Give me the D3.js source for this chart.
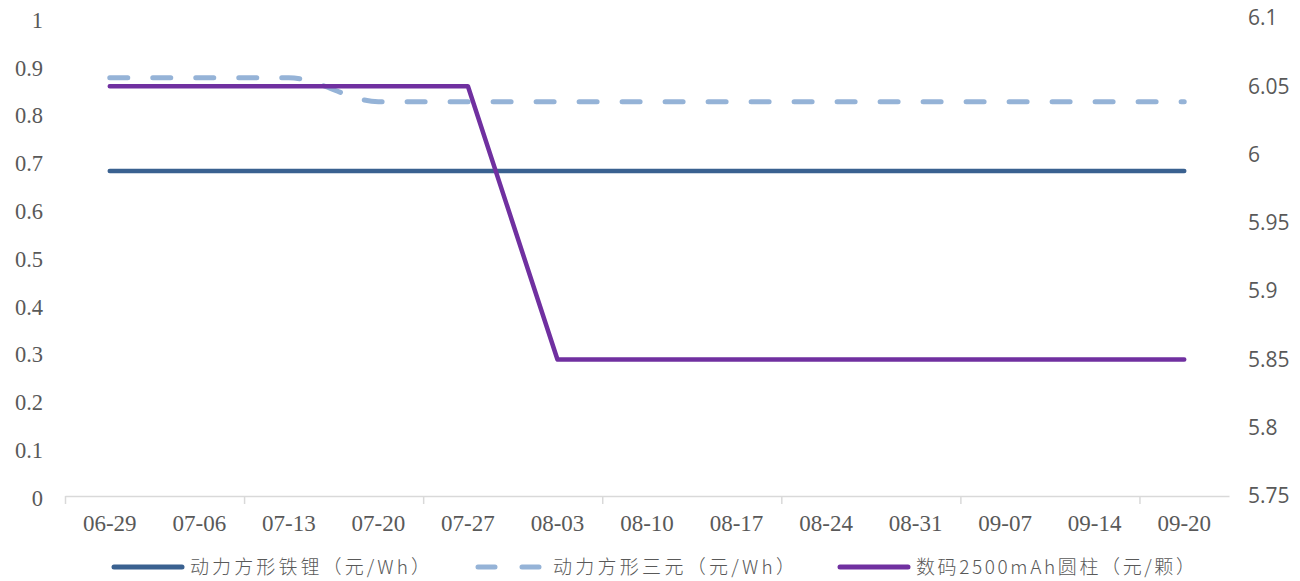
<!DOCTYPE html>
<html lang="zh">
<head>
<meta charset="UTF-8">
<script src="https://cdnjs.cloudflare.com/ajax/libs/d3/7.8.5/d3.min.js"></script>
<style>
  body { margin: 0; background: #fff; }
  svg { display: block; }
</style>
</head>
<body>
<div id="chart"></div>
<script>
    // categories and series
    var dates = ["06-29", "07-06", "07-13", "07-20", "07-27", "08-03", "08-10",
                 "08-17", "08-24", "08-31", "09-07", "09-14", "09-20"];
    var lfp = [0.68, 0.68, 0.68, 0.68, 0.68, 0.68, 0.68, 0.68, 0.68, 0.68, 0.68, 0.68, 0.68];
    var ncm = [0.875, 0.875, 0.875, 0.825, 0.825, 0.825, 0.825, 0.825, 0.825, 0.825, 0.825, 0.825, 0.825];
    var cyl = [6.05, 6.05, 6.05, 6.05, 6.05, 5.85, 5.85, 5.85, 5.85, 5.85, 5.85, 5.85, 5.85];
    var leftTicks = [0, 0.1, 0.2, 0.3, 0.4, 0.5, 0.6, 0.7, 0.8, 0.9, 1];
    var rightTicks = [5.75, 5.8, 5.85, 5.9, 5.95, 6, 6.05, 6.1];
    var names = ["动力方形铁锂（元/Wh）", "动力方形三元（元/Wh）", "数码2500mAh圆柱（元/颗）"];

    var W = 1300, H = 581;
    var mLeft = 65, mRight = 1229, mTop = 18, mBottom = 496;

    var svg = d3.select("#chart").append("svg")
        .attr("width", W)
        .attr("height", H);

    var x = d3.scaleBand().domain(dates).range([mLeft, mRight]).padding(0);
    var yL = d3.scaleLinear().domain([0, 1]).range([mBottom, mTop]);
    var yR = d3.scaleLinear().domain([5.75, 6.1]).range([mBottom, mTop]);
    var xIdx = d3.scaleLinear().domain([0, dates.length]).range([mLeft, mRight]);

    // x axis: line + tick marks every 2 categories
    var tickIdx = d3.range(0, dates.length, 2);
    svg.append("g")
        .attr("transform", "translate(0," + mBottom + ")")
        .call(d3.axisBottom(xIdx).tickValues(tickIdx).tickSize(8).tickSizeOuter(0).tickFormat(""))
        .call(function (g) {
            g.select(".domain").attr("stroke", "#d9d9d9").attr("stroke-width", 1.5);
            g.selectAll(".tick line").attr("stroke", "#d9d9d9").attr("stroke-width", 1.5);
        });

    // x labels
    svg.append("g")
        .attr("transform", "translate(0," + mBottom + ")")
        .call(d3.axisBottom(x).tickSize(0).tickPadding(19))
        .call(function (g) {
            g.select(".domain").remove();
            g.selectAll("text")
                .attr("fill", "#595959")
                .style("font-family", "'Liberation Serif', 'DejaVu Serif', serif")
                .style("font-size", "23px");
        });

    // left axis labels
    svg.append("g")
        .attr("transform", "translate(" + 43 + ",2)")
        .call(d3.axisLeft(yL).tickValues(leftTicks).tickSize(0).tickPadding(0).tickFormat(d3.format("")))
        .call(function (g) {
            g.select(".domain").remove();
            g.selectAll("text")
                .attr("fill", "#595959")
                .style("font-family", "'Liberation Serif', 'DejaVu Serif', serif")
                .style("font-size", "22.5px");
        });

    // right axis labels
    svg.append("g")
        .attr("transform", "translate(" + 1248 + ",0)")
        .call(d3.axisRight(yR).tickValues(rightTicks).tickSize(0).tickPadding(0).tickFormat(d3.format("")))
        .call(function (g) {
            g.select(".domain").remove();
            g.selectAll("text")
                .attr("fill", "#595959")
                .style("font-family", "'Open Sans', 'Liberation Sans', sans-serif")
                .style("font-size", "21px");
        });

    var cx = function (d, i) { return x(dates[i]) + x.bandwidth() / 2; };

    var lineL = d3.line().x(cx).y(function (d) { return yL(d); });
    var lineLSmooth = d3.line().x(cx).y(function (d) { return yL(d); }).curve(d3.curveMonotoneX);
    var lineR = d3.line().x(cx).y(function (d) { return yR(d); });

    svg.append("path")
        .datum(lfp)
        .attr("d", lineL)
        .attr("fill", "none")
        .attr("stroke", "#3a6190")
        .attr("stroke-width", 4.5)
        .attr("stroke-linecap", "round");

    svg.append("path")
        .datum(ncm)
        .attr("d", lineLSmooth)
        .attr("fill", "none")
        .attr("stroke", "#95b3d7")
        .attr("stroke-width", 5)
        .attr("stroke-linecap", "round")
        .attr("stroke-dasharray", "18,25");

    svg.append("path")
        .datum(cyl)
        .attr("d", lineR)
        .attr("fill", "none")
        .attr("stroke", "#7030a0")
        .attr("stroke-width", 4.5)
        .attr("stroke-linecap", "round")
        .attr("stroke-linejoin", "round");

    // legend
    var legend = [
        {name: names[0], color: "#3a6190", dash: null, x0: 114, tx: 190, tw: 240},
        {name: names[1], color: "#95b3d7", dash: "17,27", x0: 478, tx: 553, tw: 242},
        {name: names[2], color: "#7030a0", dash: null, x0: 840, tx: 916, tw: 279}
    ];
    var ly = 567;
    var lg = svg.append("g");
    legend.forEach(function (d) {
        lg.append("line")
            .attr("x1", d.x0).attr("x2", d.x0 + 68)
            .attr("y1", ly).attr("y2", ly)
            .attr("stroke", d.color)
            .attr("stroke-width", 5)
            .attr("stroke-linecap", "round")
            .attr("stroke-dasharray", d.dash);
        lg.append("text")
            .attr("x", d.tx)
            .attr("y", ly + 7)
            .attr("textLength", d.tw)
            .attr("lengthAdjust", "spacing")
            .attr("fill", "#595959")
            .style("font-family", "'Noto Sans CJK SC', sans-serif")
            .style("font-size", "19px")
            .style("font-weight", "300")
            .text(d.name);
    });
</script>
</body>
</html>
